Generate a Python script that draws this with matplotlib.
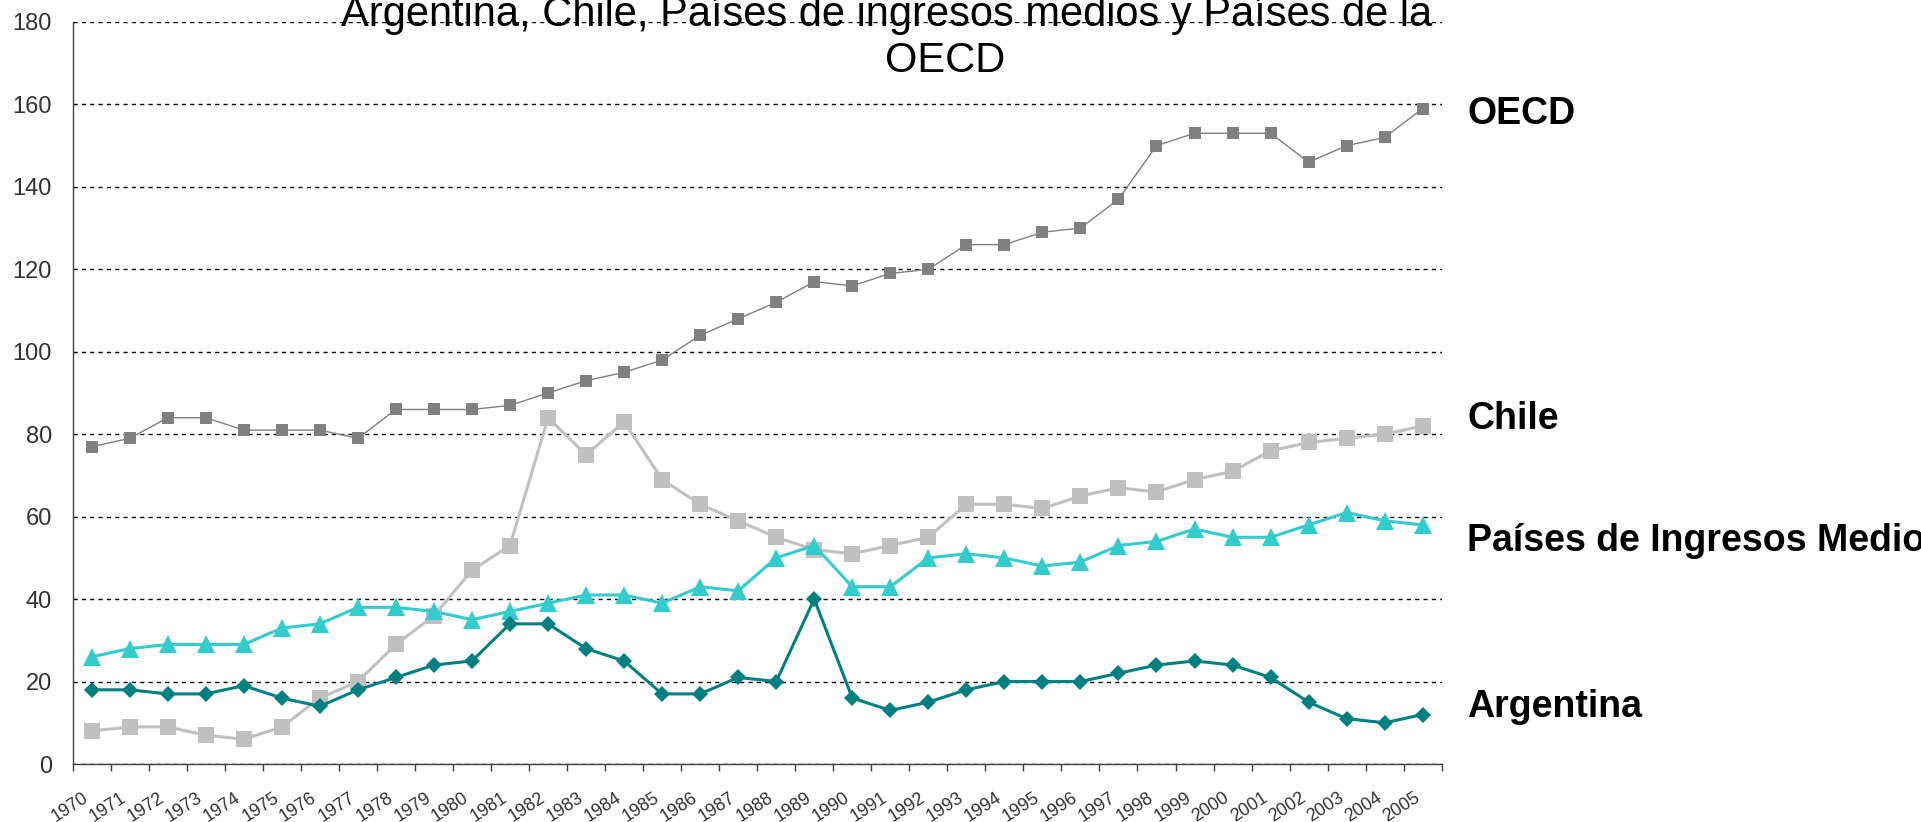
import matplotlib
matplotlib.use("Agg")
import matplotlib.pyplot as plt
import matplotlib.transforms as mtransforms
import numpy as np

plt.rcParams["font.family"] = ["Liberation Sans", "DejaVu Sans"]

years = [str(y) for y in range(1970, 2006)]

oecd = [77, 79, 84, 84, 81, 81, 81, 79, 86, 86, 86, 87, 90, 93, 95, 98, 104, 108,
        112, 117, 116, 119, 120, 126, 126, 129, 130, 137, 150, 153, 153, 153, 146,
        150, 152, 159]
chile = [8, 9, 9, 7, 6, 9, 16, 20, 29, 36, 47, 53, 84, 75, 83, 69, 63, 59, 55, 52,
         51, 53, 55, 63, 63, 62, 65, 67, 66, 69, 71, 76, 78, 79, 80, 82]
medios = [26, 28, 29, 29, 29, 33, 34, 38, 38, 37, 35, 37, 39, 41, 41, 39, 43, 42,
          50, 53, 43, 43, 50, 51, 50, 48, 49, 53, 54, 57, 55, 55, 58, 61, 59, 58]
argentina = [18, 18, 17, 17, 19, 16, 14, 18, 21, 24, 25, 34, 34, 28, 25, 17, 17, 21,
             20, 40, 16, 13, 15, 18, 20, 20, 20, 22, 24, 25, 24, 21, 15, 11, 10, 12]

series_labels = ["OECD", "Chile", "Países de Ingresos Medios", "Argentina"]
label_values = [157.7, 83.7, 54, 13.8]

W, H = 1921, 822
fig = plt.figure(figsize=(W / 100, H / 100), dpi=100)
left, right, top, bottom = 72.7, 1441.7, 22, 764
ax = fig.add_axes([left / W, (H - bottom) / H, (right - left) / W, (bottom - top) / H])

x = np.arange(len(years))

ax.plot(x, chile, color="#c0c0c0", lw=2.2, marker="s", ms=11, mew=0, zorder=3)
ax.plot(x, oecd, color="#808080", lw=1.0, marker="s", ms=9, mew=0, zorder=3)
ax.plot(x, medios, color="#33cccc", lw=2.2, marker="^", ms=13, mew=0, zorder=4)
ax.plot(x, argentina, color="#008080", lw=2.2, marker="D", ms=8.5, mew=0, zorder=5)

ax.set_xlim(-0.5, len(years) - 0.5)
ax.set_ylim(0, 180)
ax.set_yticks(np.arange(0, 181, 20))
ax.yaxis.grid(True, color="black", linestyle=(0, (3, 3)), lw=1.0)
ax.set_axisbelow(True)

for s in ["top", "right"]:
    ax.spines[s].set_visible(False)
for s in ["left", "bottom"]:
    ax.spines[s].set_color("#404040")
    ax.spines[s].set_linewidth(1.0)

ax.set_xticks(np.arange(-0.5, len(years)), labels=[])
ax.set_xticks(x, labels=years, minor=True)
ax.tick_params(axis="x", which="major", length=5, width=1.0, color="#404040")
ax.tick_params(axis="x", which="minor", length=0, labelsize=13, pad=18,
               labelcolor="#333333")
ax.tick_params(axis="y", length=0, labelsize=17, pad=15, labelcolor="#333333")

offset = mtransforms.ScaledTranslation(0, 0, fig.dpi_scale_trans)
for lab in ax.get_xticklabels(minor=True):
    lab.set_rotation(33)
    lab.set_ha("right")
    lab.set_transform(lab.get_transform() + offset)

# titulo en dos lineas
fig.text(887 / W, 1 - 26 / H, "Argentina, Chile, Países de ingresos medios y Países de la",
         ha="center", va="baseline", fontsize=30, color="black")
fig.text(945 / W, 1 - 71.7 / H, "OECD", ha="center", va="baseline", fontsize=30,
         color="black")

trans = mtransforms.blended_transform_factory(ax.transAxes, ax.transData)
for name, val in zip(series_labels, label_values):
    ax.text(1.0185, val, name, transform=trans, ha="left", va="center",
            fontsize=27, fontweight="bold", color="black", clip_on=False)

fig.savefig("out.png", dpi=100)
